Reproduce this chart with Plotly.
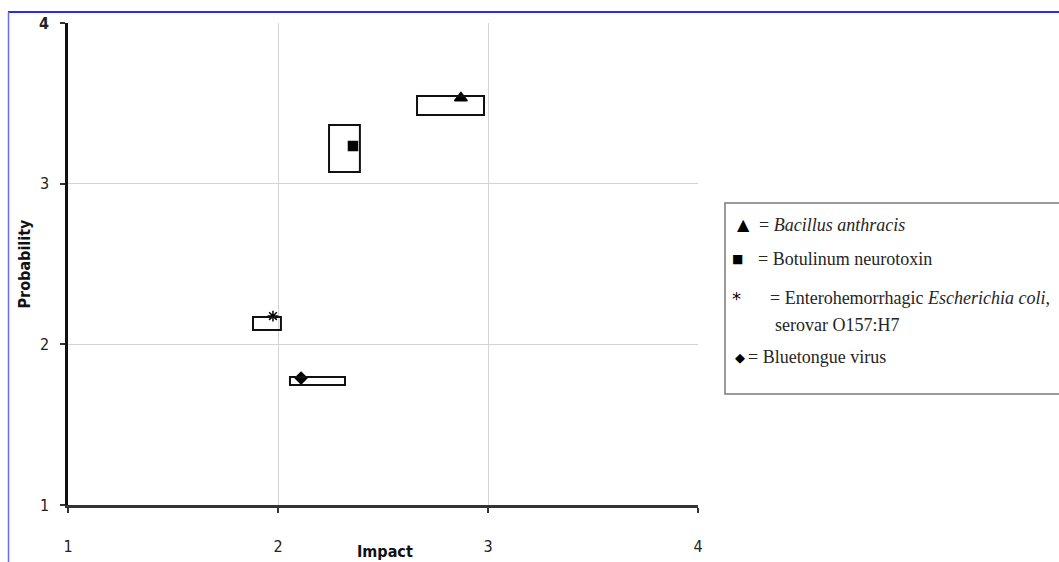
import plotly.graph_objects as go

# Data
agents = ["Bacillus anthracis", "Botulinum neurotoxin",
          "Enterohemorrhagic Escherichia coli, serovar O157:H7", "Bluetongue virus"]
impact = [2.871, 2.357, 1.976, 2.110]
probability = [3.533, 3.234, 2.176, 1.790]
impact_low = [2.662, 2.243, 1.881, 2.057]
impact_high = [2.981, 2.390, 2.014, 2.319]
prob_low = [3.427, 3.072, 2.089, 1.747]
prob_high = [3.545, 3.365, 2.170, 1.797]
symbols = ["triangle-up", "square", "asterisk-open", "diamond"]
sizes = [11, 9, 9, 9]
legend_labels = ["= <i>Bacillus anthracis</i>",
                 "= Botulinum neurotoxin",
                 "= Enterohemorrhagic <i>Escherichia coli</i>,",
                 "= Bluetongue virus"]
legend_cont = "serovar O157:H7"
legend_syms = ["\u25B2", "\u25A0", "*", "\u25C6"]
tick_vals = [1, 2, 3, 4]
x_title = "Impact"
y_title = "Probability"

W, H = 1059, 562
L, R, T, B = 68, 698, 23, 505

fig = go.Figure()

# uncertainty boxes
for i in range(len(agents)):
    fig.add_shape(type="rect", xref="x", yref="y",
                  x0=impact_low[i], x1=impact_high[i],
                  y0=prob_low[i], y1=prob_high[i],
                  line=dict(color="#111111", width=2), fillcolor="rgba(0,0,0,0)")

for i in range(len(agents)):
    fig.add_trace(go.Scatter(
        x=[impact[i]], y=[probability[i]], mode="markers", name=agents[i],
        marker=dict(symbol=symbols[i], size=sizes[i], color="#000000",
                    line=dict(color="#000000", width=1.5)),
        showlegend=False))


def px_x(p):
    return (p - L) / (R - L)


def px_y(p):
    return (B - p) / (B - T)


# legend box
fig.add_shape(type="rect", xref="paper", yref="paper",
              x0=px_x(725), x1=px_x(1064), y0=px_y(394), y1=px_y(203),
              line=dict(color="#7a7a7a", width=1.5), fillcolor="white", layer="below")

legend_y = [225, 259, 298, 357]
sym_x = [743, 737, 736, 740]
sym_size = [16, 12, 18, 13]
text_x = [759, 758, 770, 748]
serif = "Liberation Serif"
for i in range(len(agents)):
    fig.add_annotation(xref="paper", yref="paper", x=px_x(sym_x[i]), y=px_y(legend_y[i]),
                       text=legend_syms[i], showarrow=False, xanchor="center", yanchor="middle",
                       font=dict(family="DejaVu Sans", size=sym_size[i], color="#000000"))
    fig.add_annotation(xref="paper", yref="paper", x=px_x(text_x[i]), y=px_y(legend_y[i]),
                       text=legend_labels[i], showarrow=False, xanchor="left", yanchor="middle",
                       xshift=-2, font=dict(family=serif, size=18, color="#262626"))
fig.add_annotation(xref="paper", yref="paper", x=px_x(775), y=px_y(325),
                   text=legend_cont, showarrow=False, xanchor="left", yanchor="middle",
                   xshift=-2, font=dict(family=serif, size=18, color="#262626"))

# blue outer frame lines (top & left)
fig.add_shape(type="line", xref="paper", yref="paper", x0=px_x(8), x1=px_x(1062),
              y0=px_y(12), y1=px_y(12), line=dict(color="#2a2aff", width=2))
fig.add_shape(type="line", xref="paper", yref="paper", x0=px_x(8.5), x1=px_x(8.5),
              y0=px_y(12), y1=px_y(565), line=dict(color="#6a6aff", width=1.5))

axfont = dict(family="Liberation Sans Narrow, Arial Narrow, DejaVu Sans Condensed", size=16, color="#222222")
titlefont = dict(family="Liberation Sans Narrow, Arial Narrow, DejaVu Sans Condensed", size=16, color="#111111")

# x-axis title, placed low near the bottom edge as in the reference
fig.add_annotation(xref="paper", yref="paper", x=px_x(385), y=px_y(563),
                   text="<b>" + x_title + "</b>", showarrow=False, xanchor="center", yanchor="bottom",
                   font=titlefont)

fig.update_xaxes(range=[1, 4], tickvals=tick_vals, ticktext=[str(v) for v in tick_vals],
                 showgrid=True, gridcolor="#d4d4d4", gridwidth=1,
                 showline=True, linecolor="#333333", linewidth=2.5,
                 ticks="outside", ticklen=5, tickcolor="#333333", tickwidth=2,
                 tickfont=axfont, zeroline=False, ticklabelstandoff=20, automargin=False)
fig.update_yaxes(range=[1, 4], tickvals=tick_vals,
                 ticktext=["1", "2", "3", "<b>4</b>"],
                 showgrid=True, gridcolor="#d4d4d4", gridwidth=1,
                 showline=True, linecolor="#111111", linewidth=2.5,
                 ticks="outside", ticklen=5, tickcolor="#333333", tickwidth=1.5,
                 tickfont=axfont, zeroline=False, ticklabelstandoff=8, automargin=False,
                 title=dict(text="<b>" + y_title + "</b>", font=titlefont, standoff=5))

fig.update_layout(width=W, height=H, margin=dict(l=L, r=W - R, t=T, b=H - B, autoexpand=False),
                  plot_bgcolor="white", paper_bgcolor="white", showlegend=False)

fig.write_html("out.html", config={"displayModeBar": False},
               post_script="document.body.style.margin='0';document.body.style.overflow='hidden';")
